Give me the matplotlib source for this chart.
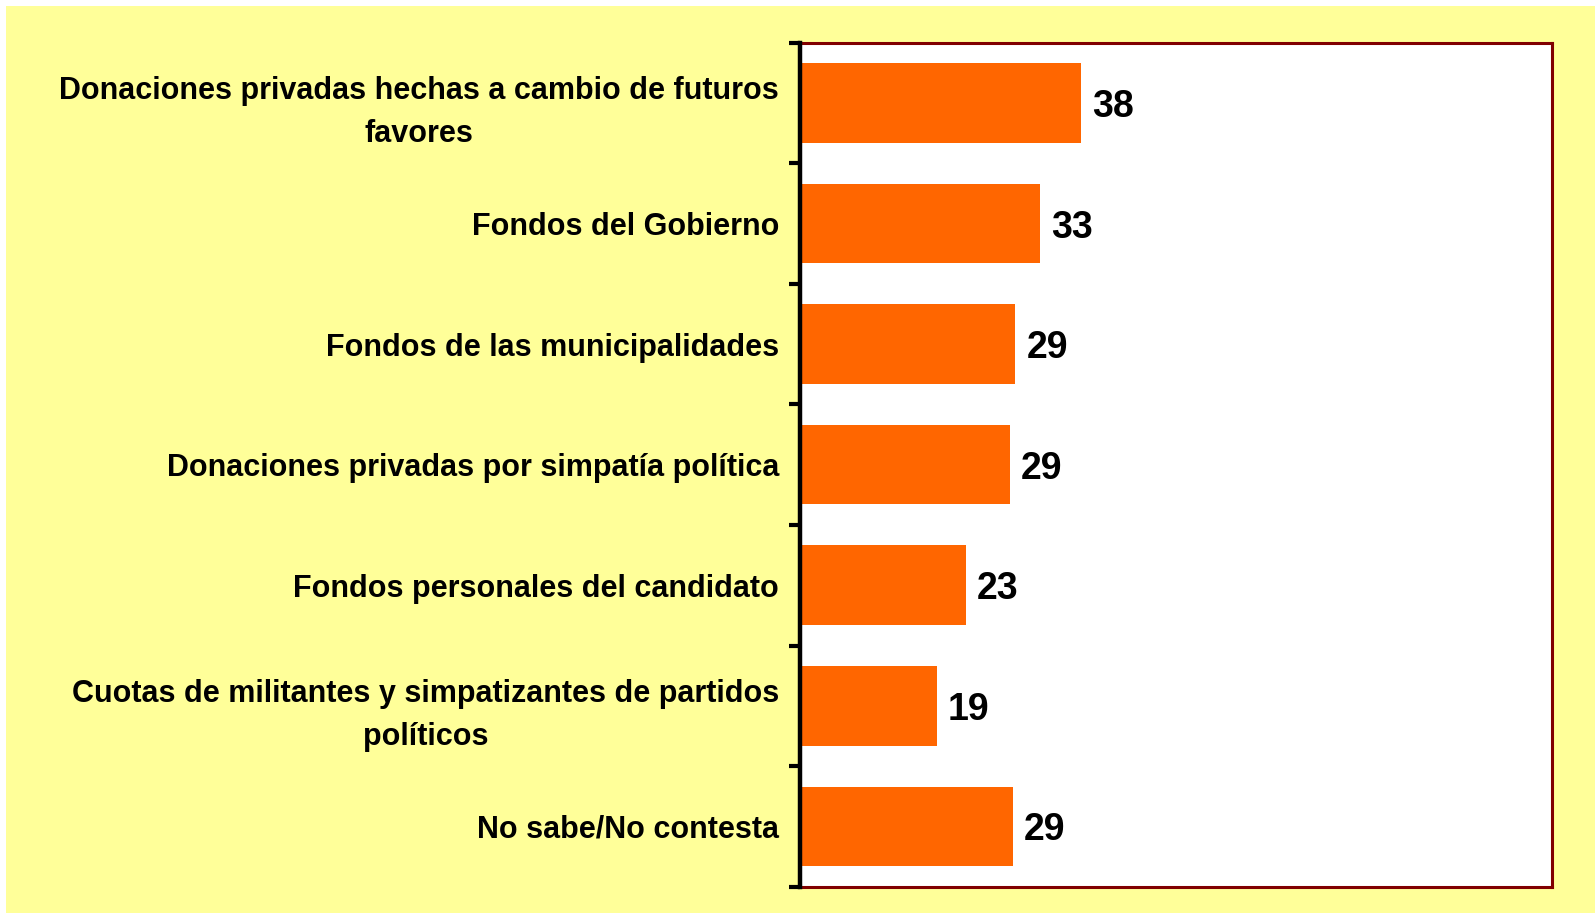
import numpy as np
import matplotlib.pyplot as plt
from matplotlib.patches import Rectangle

# categorias (de arriba hacia abajo)
categorias = [
    "Donaciones privadas hechas a cambio de futuros\nfavores",
    "Fondos del Gobierno",
    "Fondos de las municipalidades",
    "Donaciones privadas por simpatía política",
    "Fondos personales del candidato",
    "Cuotas de militantes y simpatizantes de partidos\npolíticos",
    "No sabe/No contesta",
]
valores = [38.2, 32.7, 29.3, 28.6, 22.6, 18.6, 29.0]

plt.rcParams['font.family'] = ['Liberation Sans', 'DejaVu Sans']

fig = plt.figure(figsize=(15.95, 9.16), dpi=100)
fig.patch.set_facecolor('white')
# fondo amarillo
fig.patches.append(Rectangle((6 / 1595, 3 / 916), 1589 / 1595, 907 / 916,
                             transform=fig.transFigure, facecolor='#FFFF99',
                             edgecolor='none', zorder=-10))

ax = fig.add_axes([800 / 1595, 1 - 886.7 / 916, 751.7 / 1595, 844 / 916])
ax.set_facecolor('white')

y = np.arange(len(categorias))
ax.barh(y, valores, height=0.66, color='#FF6600', zorder=2)
ax.set_xlim(0, 102.3)
ax.set_ylim(len(categorias) - 0.5, -0.5)

for yi, v in zip(y, valores):
    ax.text(v + 1.5, yi, f"{v:.0f}", va='center_baseline', ha='left',
            fontsize=27, fontweight='bold', color='black')

ax.set_yticks(y)
ax.set_yticklabels(categorias, fontsize=22, fontweight='bold',
                   multialignment='center', linespacing=1.55)
ax.set_yticks(np.arange(len(categorias) + 1) - 0.5, minor=True)
ax.tick_params(axis='y', which='major', length=0, pad=15)
ax.tick_params(axis='y', which='minor', length=8, width=3, direction='out', color='black')
ax.set_xticks([])

for s in ['top', 'right', 'bottom']:
    ax.spines[s].set_color('#800000')
    ax.spines[s].set_linewidth(2.2)
ax.spines['left'].set_color('black')
ax.spines['left'].set_linewidth(3.2)
ax.spines['left'].set_zorder(3)

fig.savefig('out.png', dpi=100, facecolor=fig.get_facecolor())
